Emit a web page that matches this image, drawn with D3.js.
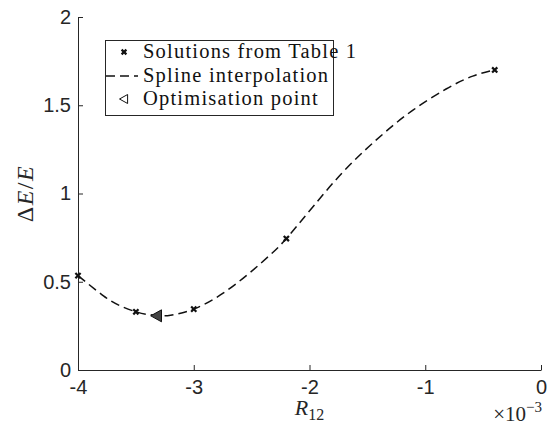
<!DOCTYPE html>
<html>
<head>
<meta charset="utf-8">
<script src="https://cdn.jsdelivr.net/npm/d3@7"></script>
<style>
  body { margin: 0; background: #fff; }
  svg { display: block; font-family: "Liberation Serif", "DejaVu Serif", serif; }
</style>
</head>
<body>
<div id="chart"></div>
<script>
// Solutions from Table 1 (R12 in units of 1e-3)
const r12 = [-4, -3.5, -3, -2.2, -0.4]
const dEE = [0.535, 0.33, 0.345, 0.745, 1.7]
// Spline interpolation curve
const splineR12 = [-4, -3.78, -3.64, -3.5, -3.4, -3.31, -3.2, -3, -2.77, -2.54, -2.34, -2.2, -1.97, -1.68, -1.36, -1.1, -0.82, -0.59, -0.4]
const splineDEE = [0.535, 0.42, 0.365, 0.33, 0.315, 0.308, 0.31, 0.345, 0.425, 0.538, 0.652, 0.745, 0.925, 1.143, 1.34, 1.475, 1.592, 1.665, 1.7]
// Optimisation point
const optR12 = [-3.32]
const optDEE = [0.307]
const xTicks = [-4, -3, -2, -1, 0]
const yTicks = [0, 0.5, 1, 1.5, 2]
const legendLabels = ['Solutions from Table 1', 'Spline interpolation', 'Optimisation point']

const width = 548
const height = 428
const margin = { left: 78, right: 7, top: 17, bottom: 58 }
const axisColor = '#262626'

const svg = d3.select('#chart')
  .append('svg')
  .attr('width', width)
  .attr('height', height)

const x = d3.scaleLinear().domain([-4, 0]).range([margin.left, width - margin.right])
const y = d3.scaleLinear().domain([0, 2]).range([height - margin.bottom, margin.top])

// Axes (ticks pointing inwards)
const xAxis = svg.append('g')
  .attr('transform', `translate(0,${y(0)})`)
  .call(d3.axisBottom(x).tickValues(xTicks).tickSizeInner(-5).tickSizeOuter(0)
    .tickPadding(10).tickFormat(d => String(d)))
xAxis.select('.domain').attr('stroke', axisColor)
xAxis.selectAll('.tick line').attr('stroke', axisColor)
xAxis.selectAll('.tick text').attr('fill', axisColor).attr('font-size', 20)

const yAxis = svg.append('g')
  .attr('transform', `translate(${x(-4)},0)`)
  .call(d3.axisLeft(y).tickValues(yTicks).tickSizeInner(-5).tickSizeOuter(0)
    .tickPadding(7).tickFormat(d => String(d)))
yAxis.select('.domain').attr('stroke', axisColor)
yAxis.selectAll('.tick line').attr('stroke', axisColor)
yAxis.selectAll('.tick text').attr('fill', axisColor).attr('font-size', 20)

// Exponent label
const expo = svg.append('text')
  .attr('x', width - 6)
  .attr('y', y(0) + 51)
  .attr('text-anchor', 'end')
  .attr('fill', axisColor)
  .attr('font-size', 21)
expo.append('tspan').text('\u00d710')
expo.append('tspan').attr('dy', -9).attr('font-size', 15).text('\u22123')

// Axis labels
const xl = svg.append('text')
  .attr('x', (x(-4) + x(0)) / 2)
  .attr('y', height - 13)
  .attr('text-anchor', 'middle')
  .attr('fill', axisColor)
  .attr('font-size', 22)
xl.append('tspan').attr('font-style', 'italic').text('R')
xl.append('tspan').attr('dy', 5).attr('font-size', 16).text('12')

svg.append('text')
  .attr('transform', `translate(33,${(y(0) + y(2)) / 2}) rotate(-90)`)
  .attr('text-anchor', 'middle')
  .attr('fill', axisColor)
  .attr('font-size', 24)
  .attr('letter-spacing', 1.5)
  .html('<tspan>\u0394</tspan><tspan font-style="italic">E</tspan><tspan>/</tspan><tspan font-style="italic">E</tspan>')

// Spline curve
const spline = splineR12.map((r, i) => [r, splineDEE[i]])
const line = d3.line()
  .x(d => x(d[0]))
  .y(d => y(d[1]))
  .curve(d3.curveNatural)

svg.append('path')
  .datum(spline)
  .attr('d', line)
  .attr('fill', 'none')
  .attr('stroke', '#111')
  .attr('stroke-width', 1.5)
  .attr('stroke-dasharray', '9,5')

// Cross markers
const cross = (g, cx, cy, s) => {
  g.append('path')
    .attr('d', `M${cx - s},${cy - s}L${cx + s},${cy + s}M${cx - s},${cy + s}L${cx + s},${cy - s}`)
    .attr('stroke', '#111')
    .attr('stroke-width', 2.2)
}
const markers = svg.append('g')
r12.forEach((r, i) => cross(markers, x(r), y(dEE[i]), 2.6))

// Optimisation point (left triangle)
const tri = (g, cx, cy, s, fill) => {
  g.append('path')
    .attr('d', `M${cx - s},${cy}L${cx + s * 0.8},${cy - s}L${cx + s * 0.8},${cy + s}Z`)
    .attr('fill', fill)
    .attr('stroke', '#111')
    .attr('stroke-width', 1)
}
optR12.forEach((r, i) => tri(svg, x(r), y(optDEE[i]), 6, '#444'))

// Legend
const lg = svg.append('g')
lg.append('rect')
  .attr('x', 105.5).attr('y', 40.5)
  .attr('width', 228).attr('height', 75)
  .attr('fill', '#fff')
  .attr('stroke', axisColor)
  .attr('stroke-width', 1)

const rowY = [52, 76, 99]
cross(lg, 124, rowY[0], 2.4)
lg.append('line')
  .attr('x1', 106).attr('x2', 138)
  .attr('y1', rowY[1]).attr('y2', rowY[1])
  .attr('stroke', '#111').attr('stroke-width', 1.4)
  .attr('stroke-dasharray', '9,5')
tri(lg, 124, rowY[2], 4.5, '#fff')

legendLabels.forEach((t, i) => {
  lg.append('text')
    .attr('x', 143)
    .attr('y', rowY[i] + 6)
    .attr('fill', '#111')
    .attr('font-size', 20.5)
    .attr('letter-spacing', 1.2)
    .text(t)
})
</script>
</body>
</html>
